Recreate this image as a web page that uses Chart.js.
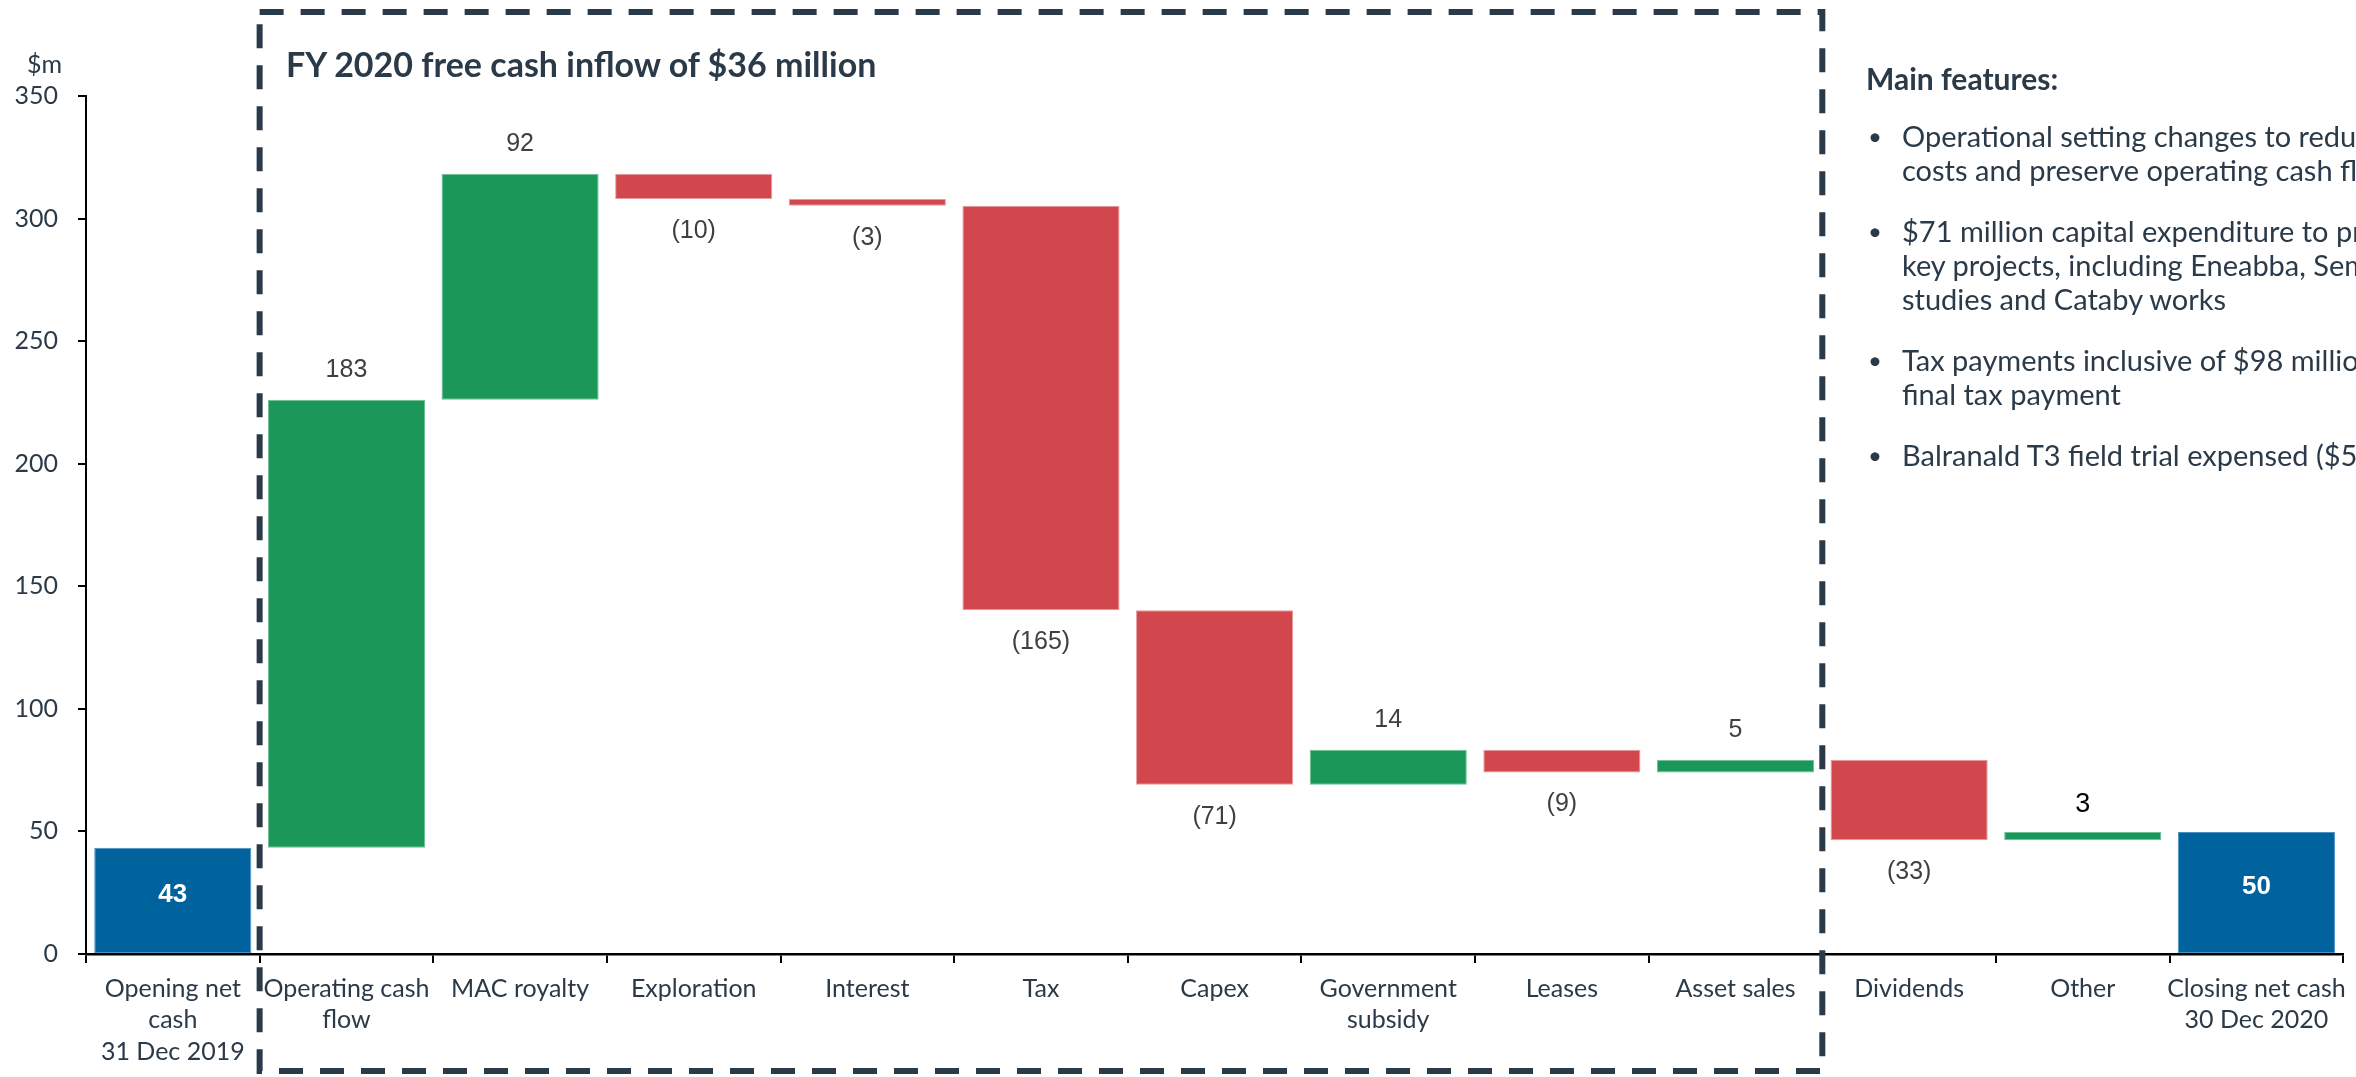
<!DOCTYPE html>
<html>
<head>
<meta charset="utf-8">
<script src="https://cdn.jsdelivr.net/npm/chart.js@4.4.0/dist/chart.umd.min.js"></script>
<style>
  html, body { margin: 0; padding: 0; background: #fff; overflow: hidden; }
  .wrap { position: relative; width: 2356px; height: 1077px; }
  .note { position: absolute; font-family: Lato, sans-serif; color: #2b3a48; white-space: nowrap; }
  #unit { left: 27px; top: 48px; font-size: 25px; }
  #boxTitle { left: 286px; top: 43px; font-size: 34px; font-weight: bold; }
  #panel { left: 1866px; top: 61px; font-size: 29px; line-height: 34px; }
  #panel h3 { margin: 0 0 24px 0; font-size: 30px; line-height: 34px; }
  #panel ul { margin: 0; padding: 0; list-style: none; }
  #panel li { position: relative; padding-left: 36px; margin-bottom: 27px; }
  #panel li::before { content: "\2022"; position: absolute; left: 2px; font-size: 24px; }
</style>
</head>
<body>
<div class="wrap">
  <canvas id="chartCanvas"></canvas>
  <div class="note" id="unit">$m</div>
  <div class="note" id="boxTitle">FY 2020 free cash inflow of $36 million</div>
  <div class="note" id="panel">
    <h3>Main features:</h3>
    <ul>
      <li>Operational setting changes to reduce<br>costs and preserve operating cash flow</li>
      <li>$71 million capital expenditure to progress<br>key projects, including Eneabba, Sembehun<br>studies and Cataby works</li>
      <li>Tax payments inclusive of $98 million FY2019<br>final tax payment</li>
      <li>Balranald T3 field trial expensed ($5 million)</li>
    </ul>
  </div>
</div>
<script>
    // categories along the x axis
    const categories = [
        ['Opening net', 'cash', '31 Dec 2019'],
        ['Operating cash', 'flow'],
        'MAC royalty',
        'Exploration',
        'Interest',
        'Tax',
        'Capex',
        ['Government', 'subsidy'],
        'Leases',
        'Asset sales',
        'Dividends',
        'Other',
        ['Closing net cash', '30 Dec 2020']
    ];
    // movements in $m (totals for first and last)
    const movements = [43.3, 182.8, 92.2, -10.3, -2.8, -165.0, -71.2, 14.3, -9.3, 5.2, -32.8, 3.4, 49.8];
    const barKinds = ['total', 'up', 'up', 'down', 'down', 'down', 'down', 'up', 'down', 'up', 'down', 'up', 'total'];
    const valueLabels = ['43', '183', '92', '(10)', '(3)', '(165)', '(71)', '14', '(9)', '5', '(33)', '3', '50'];
    const yTicks = [0, 50, 100, 150, 200, 250, 300, 350];

    const colours = { total: '#00639e', up: '#1a9759', down: '#d2474d' };
    const edges = { total: '#4a8fc0', up: '#6cc095', down: '#e69a9d' };

    // running totals -> floating bars
    let running = 0;
    const floating = movements.map((m, i) => {
        if (barKinds[i] === 'total') { running = m; return [0, m]; }
        const start = running;
        running += m;
        return [start, running];
    });

    const TEXT = '#2b3a48';

    const waterfallLabels = {
        id: 'waterfallLabels',
        afterDatasetsDraw(chart) {
            const ctx = chart.ctx;
            const meta = chart.getDatasetMeta(0);
            ctx.save();
            ctx.textAlign = 'center';
            ctx.textBaseline = 'middle';
            meta.data.forEach((bar, i) => {
                const top = Math.min(bar.y, bar.base);
                const bottom = Math.max(bar.y, bar.base);
                const kind = barKinds[i];
                if (kind === 'total') {
                    ctx.fillStyle = '#ffffff';
                    ctx.font = 'bold 26px "Liberation Sans Narrow", "Liberation Sans", Arial, sans-serif';
                    ctx.fillText(valueLabels[i], bar.x, (top + bottom) / 2 - 6);
                } else if (kind === 'up') {
                    ctx.fillStyle = i === 11 ? '#000000' : '#404040';
                    ctx.font = (i === 11 ? '27px' : '25px') + ' "Liberation Sans", Arial, sans-serif';
                    ctx.fillText(valueLabels[i], bar.x, top - (i === 11 ? 27 : 30));
                } else {
                    ctx.fillStyle = '#404040';
                    ctx.font = '25px "Liberation Sans", Arial, sans-serif';
                    ctx.fillText(valueLabels[i], bar.x, bottom + 32);
                }
            });
            ctx.restore();
        }
    };

    // dashed frame round the free cash flow items
    const frame = {
        id: 'frame',
        afterDraw(chart) {
            const x = chart.scales.x;
            const left = (x.getPixelForValue(0) + x.getPixelForValue(1)) / 2;
            const right = (x.getPixelForValue(9) + x.getPixelForValue(10)) / 2;
            const ctx = chart.ctx;
            ctx.save();
            ctx.strokeStyle = '#2b3a48';
            ctx.lineWidth = 6;
            ctx.setLineDash([24, 17]);
            ctx.strokeRect(left, 12, right - left, 1059);
            ctx.restore();
        }
    };

    const canvas = document.getElementById('chartCanvas');
    canvas.width = 2356;
    canvas.height = 1077;

    new Chart(canvas.getContext('2d'), {
        type: 'bar',
        data: {
            labels: categories,
            datasets: [{
                data: floating,
                backgroundColor: barKinds.map(k => colours[k]),
                borderColor: barKinds.map(k => edges[k]),
                borderWidth: 1,
                borderSkipped: false,
                categoryPercentage: 1,
                barPercentage: 0.905
            }]
        },
        plugins: [waterfallLabels, frame],
        options: {
            responsive: false,
            animation: false,
            layout: { padding: { top: 96, right: 9, left: 0, bottom: 0 } },
            plugins: {
                legend: { display: false },
                tooltip: { enabled: false }
            },
            scales: {
                x: {
                    offset: true,
                    grid: { offset: true, drawOnChartArea: false, drawTicks: true, tickLength: 9, color: '#000', lineWidth: 2 },
                    border: { display: true, color: '#000', width: 2.5 },
                    ticks: {
                        autoSkip: false,
                        maxRotation: 0,
                        padding: 10,
                        color: TEXT,
                        font: { family: 'Lato', size: 25, lineHeight: 1.26 }
                    },
                    afterFit: function(scale) { scale.height = 123; }
                },
                y: {
                    min: 0,
                    max: 350,
                    grid: { drawOnChartArea: false, drawTicks: true, tickLength: 8, color: '#000', lineWidth: 2 },
                    border: { display: true, color: '#000', width: 2 },
                    ticks: {
                        padding: 20,
                        color: TEXT,
                        font: { family: 'Lato', size: 25 }
                    },
                    afterBuildTicks: function(axis) {
                        axis.ticks = yTicks.map(v => ({ value: v }));
                    },
                    afterFit: function(scale) { scale.width = 86; }
                }
            }
        }
    });
</script>
</body>
</html>
